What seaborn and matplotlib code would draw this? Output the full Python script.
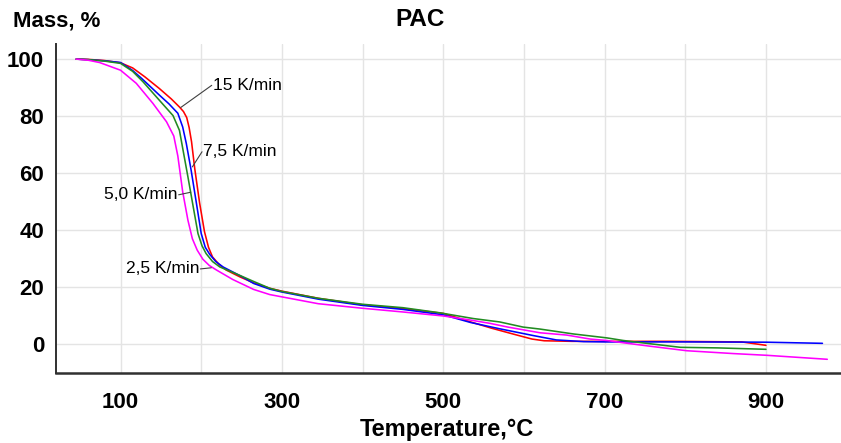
import matplotlib
matplotlib.use("Agg")
import matplotlib.pyplot as plt
import seaborn as sns
import pandas as pd
from matplotlib.ticker import MultipleLocator, FixedLocator, FuncFormatter

# ---------------- data ----------------
rates = ["15 K/min", "7,5 K/min", "5,0 K/min", "2,5 K/min"]
colors = ["#ff0000", "#0000ff", "#228b22", "#ff00ff"]

red_T = [45, 60, 80, 100, 115, 130, 148, 163, 173, 178, 182, 185, 188, 192, 198, 204, 209, 214, 222, 231, 248,
         265, 285, 300, 345, 400, 450, 500, 534, 560, 590, 610, 625, 660, 700, 780, 870, 900]
red_m = [100, 99.9, 99.5, 98.7, 96.9, 93.8, 89.7, 86.0, 83.2, 81.6, 79.5, 76.0, 71.0, 61.5, 49.5, 39.5, 34, 30.6, 28, 26, 23.6,
         21.5, 19.6, 18.6, 16.1, 13.8, 12.5, 10.8, 7.8, 5.6, 3.3, 1.8, 1.2, 1.0, 1.0, 1.0, 0.8, -0.4]

blue_T = [45, 60, 80, 100, 115, 127, 148, 160, 171, 177, 181.5, 187.5, 194, 200, 205, 210.5, 218, 227, 251,
          265, 285, 300, 345, 400, 450, 500, 534, 570, 612, 640, 674, 700, 800, 900, 970]
blue_m = [100, 99.8, 99.4, 98.8, 96, 93, 87.4, 84.3, 81, 76.2, 70.4, 61.0, 49.5, 38.8, 34, 31.5, 29, 27.1, 23.6,
          21.3, 19.3, 18.3, 15.8, 13.6, 12.2, 10.3, 7.6, 5.4, 3.0, 1.5, 0.9, 0.8, 0.8, 0.7, 0.3]

green_T = [45, 60, 80, 100, 115, 128, 148, 165, 173, 177.5, 183.5, 190, 196, 201, 206, 214, 223, 248, 265,
           285, 300, 345, 400, 450, 496, 537, 570, 599, 620, 661, 703, 723, 752, 794, 840, 900]
green_m = [100, 99.8, 99.3, 98.5, 95.7, 92, 85.6, 80.2, 75, 68, 58.7, 48.3, 38.8, 34.5, 31.8, 29, 27.1, 24.1, 22,
           19.6, 18.5, 16.1, 14.0, 12.8, 11, 9.0, 7.8, 6.0, 5.3, 3.6, 2.2, 1.3, 0.3, -1.1, -1.3, -1.8]

mag_T = [45, 60, 74, 100, 119.5, 140, 157, 166, 171, 177, 183.5, 189, 195, 202, 210, 219, 239, 265, 285, 300,
         345, 400, 450, 500, 533, 558, 580, 620, 653, 682, 703, 723, 756, 802, 860, 901, 976]
mag_m = [100, 99.6, 98.8, 96.1, 91.5, 84.5, 78, 73, 66, 53.5, 43.5, 37, 33, 29.8, 27.6, 26, 22.7, 19.2, 17.4, 16.6,
         14.2, 12.6, 11.3, 9.9, 8.5, 7.3, 6.0, 4.0, 3.2, 1.8, 1.3, 0.5, -0.7, -2.3, -3.3, -3.9, -5.3]

# label annotations: (text, curve point, text position, alignment)
ann_text = ["15 K/min", "7,5 K/min", "5,0 K/min", "2,5 K/min"]
ann_xy = [(174.5, 83.0), (189, 62.2), (187, 53.3), (212.5, 26.8)]
ann_xytext = [(213, 90.8), (201, 67.5), (172, 52.4), (199, 26.4)]
ann_ha = ["left", "left", "right", "right"]

x_label_ticks = [100, 300, 500, 700, 900]

# ---------------- build frame ----------------
frames = []
for name, T, m in zip(rates, [red_T, blue_T, green_T, mag_T], [red_m, blue_m, green_m, mag_m]):
    frames.append(pd.DataFrame({"T": T, "m": m, "rate": name}))
df = pd.concat(frames, ignore_index=True)

sns.set_theme(style="white")
plt.rcParams["font.family"] = ["Liberation Sans", "DejaVu Sans"]
plt.rcParams["font.weight"] = "bold"
plt.rcParams["text.color"] = "black"

fig = plt.figure(figsize=(8.41, 4.43), dpi=100)
ax = fig.add_axes([0.0666, 0.1587, 0.9334, 0.742])

sns.lineplot(data=df, x="T", y="m", hue="rate", hue_order=rates,
             palette=dict(zip(rates, colors)), sort=False, estimator=None,
             legend=False, linewidth=1.15, ax=ax, zorder=3)

ax.set_xlim(20, 993)
ax.set_ylim(-10, 105.3)

ax.xaxis.set_major_locator(MultipleLocator(100))
ax.xaxis.set_minor_locator(MultipleLocator(20))
ax.xaxis.set_major_formatter(FuncFormatter(
    lambda v, p: f"{int(round(v))}" if int(round(v)) in x_label_ticks else ""))
ax.yaxis.set_major_locator(MultipleLocator(20))
ax.yaxis.set_minor_locator(FixedLocator([-10, -5, 5, 10, 30, 50, 70, 90, 105]))

ax.grid(True, which="major", color="#e4e4e4", linewidth=1.0, zorder=0)
ax.set_axisbelow(True)

for s in ["top", "right"]:
    ax.spines[s].set_visible(False)
for s in ["left", "bottom"]:
    ax.spines[s].set_color("#303030")
ax.spines["left"].set_linewidth(1.4)
ax.spines["bottom"].set_linewidth(1.8)

ax.tick_params(axis="x", which="major", direction="out", length=6, width=1.2,
               color="#303030", pad=8, labelsize=16, labelcolor="black")
ax.tick_params(axis="x", which="minor", direction="out", length=4, width=1.0, color="#303030")
ax.tick_params(axis="y", which="major", direction="out", length=4.5, width=1.2,
               color="#303030", pad=4, labelsize=16, labelcolor="black")
ax.tick_params(axis="y", which="minor", direction="out", length=4, width=1.0, color="#303030")

ax.set_xlabel("")
ax.set_ylabel("")
fig.text(447 / 841, 7 / 443, "Temperature,°C", ha="center", va="baseline",
         fontsize=17, fontweight="bold", color="black")

fig.text(0.5, 0.955, "PAC", ha="center", va="center", fontsize=17.5, fontweight="bold", color="black")
fig.text(13 / 841, 1 - 27 / 443, "Mass, %", ha="left", va="baseline", fontsize=16,
         fontweight="bold", color="black")

for t, xy, xyt, ha in zip(ann_text, ann_xy, ann_xytext, ann_ha):
    ax.plot([xy[0], xyt[0]], [xy[1], xyt[1]], color="#404040", lw=0.8, zorder=4)
    ax.text(xyt[0] + (1 if ha == "left" else -1), xyt[1], t, ha=ha, va="center",
            fontsize=12.5, fontweight="normal", color="black", zorder=5)

fig.savefig("out.png", dpi=100)
